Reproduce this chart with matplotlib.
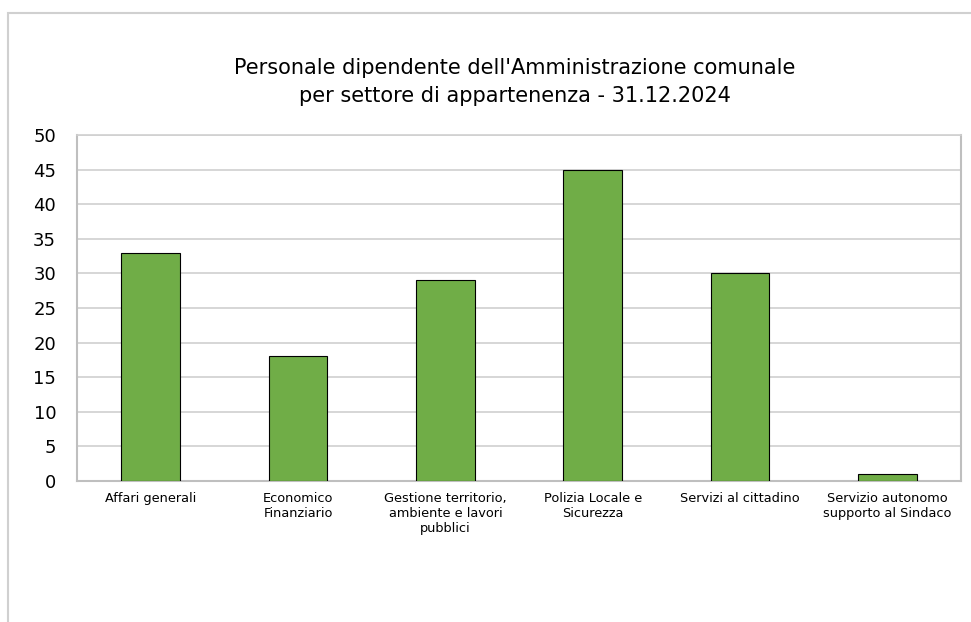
import numpy as np
import matplotlib.pyplot as plt
from matplotlib.patches import Rectangle

# dati
settori = ['Affari generali', 'Economico\nFinanziario',
           'Gestione territorio,\nambiente e lavori\npubblici',
           'Polizia Locale e\nSicurezza', 'Servizi al cittadino',
           'Servizio autonomo\nsupporto al Sindaco']
dipendenti = [33, 18, 29, 45, 30, 1]
yticks = [0, 5, 10, 15, 20, 25, 30, 35, 40, 45, 50]

fig = plt.figure(figsize=(9.71, 6.22), dpi=100)
ax = fig.add_axes([77/971, 1-481/622, (961-77)/971, (481-135)/622])

x = np.arange(len(settori))
ax.bar(x, dipendenti, width=0.4, color='#70AD47', edgecolor='black', linewidth=0.8, zorder=3)

ax.set_xlim(-0.5, len(settori)-0.5)
ax.set_ylim(0, 50)
ax.set_yticks(yticks)
ax.tick_params(axis='y', labelsize=13, length=0, pad=15)
ax.set_xticks(x)
ax.set_xticklabels(settori, fontsize=9.3)
ax.tick_params(axis='x', length=0, pad=8)
ax.grid(axis='y', color='#D0D0D0', linewidth=1.2, zorder=0)
for s in ax.spines.values():
    s.set_color('#BFBFBF')
    s.set_linewidth(1.5)
ax.spines['top'].set_color('#D0D0D0')
ax.spines['top'].set_linewidth(1.2)

# bordo del grafico
fig.patches.append(Rectangle((8/971, -0.1), 1.2, 1-13/622+0.1, transform=fig.transFigure,
                             fill=False, edgecolor='#D0D0D0', linewidth=1.5))

fig.text(515/971, 1-82/622, "Personale dipendente dell'Amministrazione comunale\nper settore di appartenenza - 31.12.2024",
         ha='center', va='center', fontsize=15, linespacing=1.45)

fig.savefig('out.png', dpi=100)
